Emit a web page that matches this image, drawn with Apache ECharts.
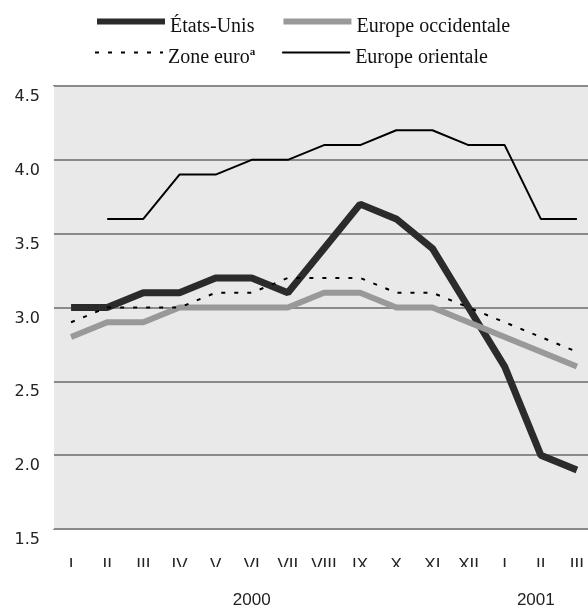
<!DOCTYPE html>
<html>
<head>
<meta charset="utf-8">
<script src="https://cdn.jsdelivr.net/npm/echarts@6/dist/echarts.min.js"></script>
<style>
html,body{margin:0;padding:0;background:#fff;}
#chart{width:588px;height:605px;}
</style>
</head>
<body>
<div id="chart"></div>
<script>
var months = ['I','II','III','IV','V','VI','VII','VIII','IX','X','XI','XII','I','II','III'];
var yearLabels = ['','','','','','2000','','','','','','','','2001',''];
var etatsUnis = [3.0,3.0,3.1,3.1,3.2,3.2,3.1,3.4,3.7,3.6,3.4,3.0,2.6,2.0,1.9];
var europeOccidentale = [2.8,2.9,2.9,3.0,3.0,3.0,3.0,3.1,3.1,3.0,3.0,2.9,2.8,2.7,2.6];
var zoneEuro = [2.9,3.0,3.0,3.0,3.1,3.1,3.2,3.2,3.2,3.1,3.1,3.0,2.9,2.8,2.7];
var europeOrientale = [null,3.6,3.6,3.9,3.9,4.0,4.0,4.1,4.1,4.2,4.2,4.1,4.1,3.6,3.6];
var yTicks = {min:1.5, max:4.5, interval:0.5};

var chart = echarts.init(document.getElementById('chart'), null, {renderer:'canvas'});
var serif = '"Liberation Serif", "Times New Roman", serif';
var sans = '"Liberation Sans", Arial, sans-serif';
var legendText = {
  fontFamily: serif, fontSize: 20, color: '#111', padding:[10,0,0,0],
  rich: {
    n: {fontFamily: serif, fontSize: 20, color:'#111'},
    s: {fontFamily: serif, fontSize: 11, fontWeight:'bold', color:'#111', verticalAlign:'top', padding:[0,0,10,0]}
  }
};
function legendFmt(name){
  if (name === 'Zone euro') return '{n|Zone euro}{s|a}';
  return name;
}
var legendCommon = {left:89, itemWidth:68, itemHeight:14, padding:5,
  textStyle: legendText, formatter: legendFmt, selectedMode:false, itemStyle:{opacity:0}};
chart.setOption({
  animation: false,
  backgroundColor: '#fff',
  legend: [
    Object.assign({}, legendCommon, {top:11, itemGap:26, data:[
      {name:'États-Unis', lineStyle:{width:6}},
      {name:'Europe occidentale', lineStyle:{width:6}}]}),
    Object.assign({}, legendCommon, {top:42, itemGap:26, data:[
      {name:'Zone euro', lineStyle:{width:2}},
      {name:'Europe orientale', lineStyle:{width:2}}]})
  ],
  grid: {left:53, width:542, top:86, bottom:76, outerBoundsMode:'none', containLabel:false,
    show:true, backgroundColor:'#e9e9e9', borderWidth:0},
  xAxis: [
    {type:'category', data: months, boundaryGap:true,
     axisLine:{show:false}, axisTick:{show:false},
     axisLabel:{interval:0, margin:28, fontFamily:sans, fontSize:17, color:'#222'},
     splitLine:{show:true, interval:function(i){return i===12;}, lineStyle:{color:'#ffffff', width:2}}},
    {type:'category', data: yearLabels, boundaryGap:true, position:'bottom',
     axisLine:{show:false}, axisTick:{show:false}, splitLine:{show:false},
     axisLabel:{interval:0, margin:63, fontFamily:sans, fontSize:17, color:'#222',
       formatter:function(v){return v === '2001' ? '{b|' + v + '}' : v;},
       rich:{b:{fontFamily:sans, fontSize:17, color:'#222', padding:[0,10,0,0]}}}}
  ],
  yAxis: {type:'value', min:yTicks.min, max:yTicks.max, interval:yTicks.interval,
    axisLine:{show:false}, axisTick:{show:false},
    axisLabel:{margin:13, fontFamily:'"DejaVu Sans", sans-serif', fontSize:16, color:'#222', verticalAlign:'top', padding:[3,0,0,0],
      formatter:function(v){return v.toFixed(1);}},
    splitLine:{show:true, lineStyle:{color:'#8a8a8a', width:2}}},
  series: [
    {name:'États-Unis', type:'line', data:etatsUnis, symbol:'none', z:2,
     lineStyle:{color:'#2b2b2b', width:7}, itemStyle:{color:'#2b2b2b'}},
    {name:'Europe occidentale', type:'line', data:europeOccidentale, symbol:'none', z:3,
     lineStyle:{color:'#999999', width:6}, itemStyle:{color:'#999999'}},
    {name:'Zone euro', type:'line', data:zoneEuro, symbol:'none', z:4,
     lineStyle:{color:'#000', width:2, type:[4,9]}, itemStyle:{color:'#000'}},
    {name:'Europe orientale', type:'line', data:europeOrientale, symbol:'none', z:5, connectNulls:false,
     lineStyle:{color:'#000', width:2}, itemStyle:{color:'#000'}}
  ],
  graphic: [
    {type:'rect', shape:{x:40, y:567, width:548, height:18}, style:{fill:'#fff'}, z:100, silent:true}
  ]
});
</script>
</body>
</html>
